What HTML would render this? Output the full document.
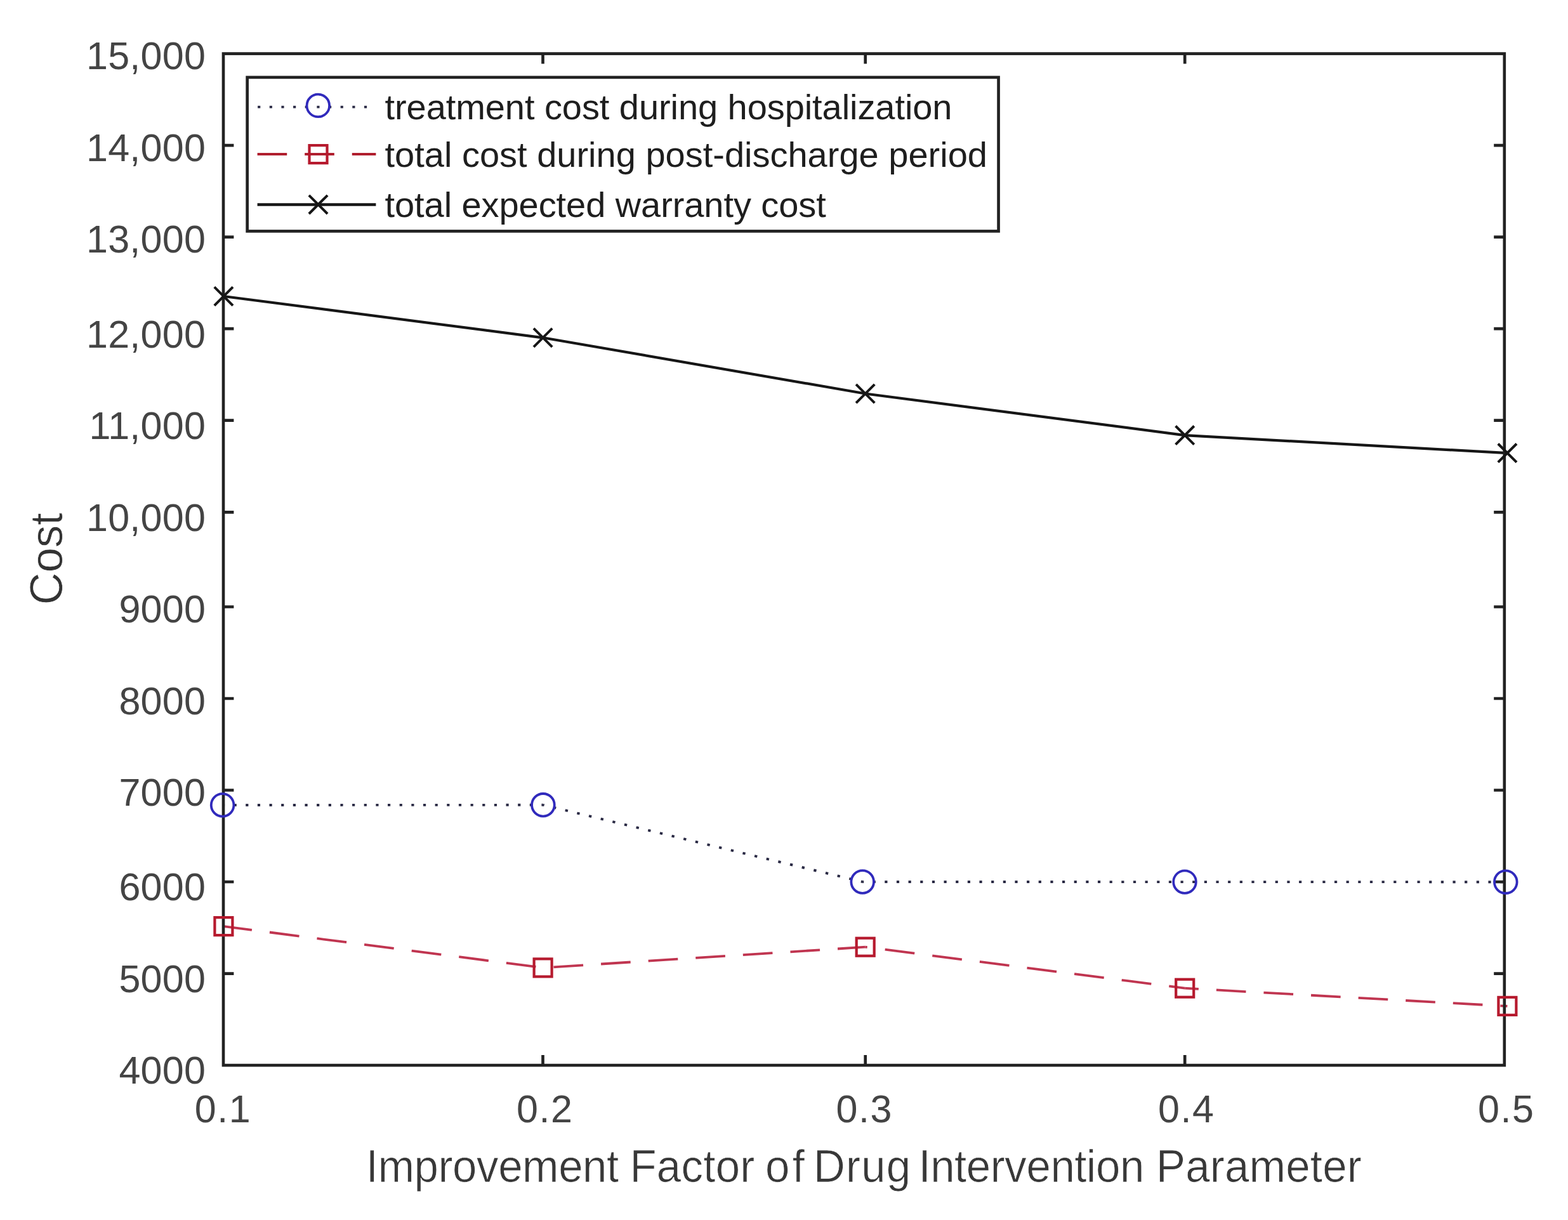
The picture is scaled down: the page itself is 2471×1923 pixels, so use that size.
<!DOCTYPE html>
<html lang="en">
<head>
<meta charset="utf-8">
<title>Cost vs Improvement Factor of Drug Intervention Parameter</title>
<style>
html,body{margin:0;padding:0;background:#fff;}
body{width:2471px;height:1923px;overflow:hidden;}
svg{display:block;}
text{font-family:"Liberation Sans",Arial,Helvetica,sans-serif;white-space:pre;}
.tick{font-size:61px;fill:#444;}
.lab{font-size:69px;fill:#383838;stroke:#fff;stroke-width:0.7px;}
.cost{font-size:71px;fill:#333;stroke:#fff;stroke-width:0.7px;}
.leg{font-size:56px;fill:#1e1e1e;}
</style>
</head>
<body>
<svg width="2471" height="1923" viewBox="0 0 2471 1923">
<rect x="0" y="0" width="2471" height="1923" fill="#ffffff"/>

<g fill="none">
<path d="M350.6 1269.0L855.9 1268.8" stroke="#2a2a44" stroke-width="3.9" stroke-dasharray="4.20 14.45" stroke-dashoffset="0.70"/>
<path d="M855.9 1268.8L1359.2 1390.0" stroke="#2a2a44" stroke-width="3.9" stroke-dasharray="4.32 14.86" stroke-dashoffset="2.54"/>
<path d="M1359.2 1390.0L1867.0 1390.1" stroke="#2a2a44" stroke-width="3.9" stroke-dasharray="4.20 14.45" stroke-dashoffset="2.24"/>
<path d="M1867.0 1390.1L2372.8 1390.2" stroke="#2a2a44" stroke-width="3.9" stroke-dasharray="4.20 14.45" stroke-dashoffset="6.51"/>
<path d="M352.4 1460.1L855.6 1525.4" stroke="#c03550" stroke-width="3.8" stroke-dasharray="47.01 28.21" stroke-dashoffset="2.12"/>
<path d="M855.6 1525.4L1363.7 1492.7" stroke="#c03550" stroke-width="3.8" stroke-dasharray="46.72 28.03" stroke-dashoffset="57.84"/>
<path d="M1363.7 1492.7L1867.2 1557.7" stroke="#c03550" stroke-width="3.8" stroke-dasharray="47.01 28.21" stroke-dashoffset="44.00"/>
<path d="M1867.2 1557.7L2375.4 1585.9" stroke="#c03550" stroke-width="3.8" stroke-dasharray="46.69 28.02" stroke-dashoffset="25.00"/>
<polyline points="352.4,467.0 855.6,532.3 1363.7,620.5 1867.2,686.1 2375.4,714.1" stroke="#161616" stroke-width="4.2" stroke-linejoin="round"/>
</g>
<g fill="none" stroke="#222222" stroke-width="4.66">
<rect x="352.0" y="84.6" width="2018.8" height="1594.5"/>
<path d="M352.0 229.1H368.4M2370.8 229.1H2354.2"/>
<path d="M352.0 373.7H368.4M2370.8 373.7H2354.2"/>
<path d="M352.0 518.2H368.4M2370.8 518.2H2354.2"/>
<path d="M352.0 662.7H368.4M2370.8 662.7H2354.2"/>
<path d="M352.0 807.3H368.4M2370.8 807.3H2354.2"/>
<path d="M352.0 956.5H368.4M2370.8 956.5H2354.2"/>
<path d="M352.0 1101.0H368.4M2370.8 1101.0H2354.2"/>
<path d="M352.0 1245.5H368.4M2370.8 1245.5H2354.2"/>
<path d="M352.0 1390.0H368.4M2370.8 1390.0H2354.2"/>
<path d="M352.0 1534.6H368.4M2370.8 1534.6H2354.2"/>
<path d="M855.5 84.6V100.6M855.5 1679.1V1663.1"/>
<path d="M1363.7 84.6V100.6M1363.7 1679.1V1663.1"/>
<path d="M1867.2 84.6V100.6M1867.2 1679.1V1663.1"/>
</g>
<g fill="none">
<circle cx="350.6" cy="1269.0" r="17.8" stroke="#302abc" stroke-width="3.8"/>
<circle cx="855.9" cy="1268.8" r="17.8" stroke="#302abc" stroke-width="3.8"/>
<circle cx="1359.2" cy="1390.0" r="17.8" stroke="#302abc" stroke-width="3.8"/>
<circle cx="1867.0" cy="1390.1" r="17.8" stroke="#302abc" stroke-width="3.8"/>
<circle cx="2372.8" cy="1390.2" r="17.8" stroke="#302abc" stroke-width="3.8"/>
<rect x="338.4" y="1446.1" width="28" height="28" stroke="#b61a2e" stroke-width="4.2"/>
<rect x="841.6" y="1511.4" width="28" height="28" stroke="#b61a2e" stroke-width="4.2"/>
<rect x="1349.7" y="1478.7" width="28" height="28" stroke="#b61a2e" stroke-width="4.2"/>
<rect x="1853.2" y="1543.7" width="28" height="28" stroke="#b61a2e" stroke-width="4.2"/>
<rect x="2361.4" y="1571.9" width="28" height="28" stroke="#b61a2e" stroke-width="4.2"/>
<path d="M337.8 452.4L367.0 481.6M337.8 481.6L367.0 452.4" stroke="#161616" stroke-width="4.0"/>
<path d="M841.0 517.7L870.2 546.9M841.0 546.9L870.2 517.7" stroke="#161616" stroke-width="4.0"/>
<path d="M1349.1 605.9L1378.3 635.1M1349.1 635.1L1378.3 605.9" stroke="#161616" stroke-width="4.0"/>
<path d="M1852.6 671.5L1881.8 700.7M1852.6 700.7L1881.8 671.5" stroke="#161616" stroke-width="4.0"/>
<path d="M2360.8 699.5L2390.0 728.7M2360.8 728.7L2390.0 699.5" stroke="#161616" stroke-width="4.0"/>
</g>
<g class="tick" text-anchor="end" letter-spacing="0.3">
<text x="324.3" y="109.2">15,000</text>
<text x="324.3" y="253.7">14,000</text>
<text x="324.3" y="398.3">13,000</text>
<text x="324.3" y="547.5">12,000</text>
<text x="324.3" y="692.0">11,000</text>
<text x="324.3" y="836.5">10,000</text>
<text x="324.3" y="981.1">9000</text>
<text x="324.3" y="1125.6">8000</text>
<text x="324.3" y="1270.1">7000</text>
<text x="324.3" y="1419.3">6000</text>
<text x="324.3" y="1563.8">5000</text>
<text x="324.3" y="1708.4">4000</text>
</g>
<g class="tick" letter-spacing="1.6">
<text x="306.7" y="1769.0">0.1</text>
<text x="813.9" y="1769.0">0.2</text>
<text x="1317.4" y="1769.0">0.3</text>
<text x="1825.0" y="1769.0">0.4</text>
<text x="2328.9" y="1769.0">0.5</text>
</g>
<text class="lab" transform="translate(0 1862.6) scale(1 1.04)" y="0"><tspan x="576.8" letter-spacing="-0.41">Improvement</tspan> <tspan x="992.4" letter-spacing="0.28">Factor</tspan> <tspan x="1206.0" letter-spacing="4.3">of</tspan> <tspan x="1282.0" letter-spacing="1.2">Drug</tspan> <tspan x="1447.4" letter-spacing="-0.41">Intervention</tspan> <tspan x="1822.0" letter-spacing="0.22">Parameter</tspan></text>
<text class="cost" letter-spacing="-0.3" transform="translate(98.0 953.4) rotate(-90) scale(1 1.03)">Cost</text>
<rect x="389.65" y="121.9" width="1183.9" height="242.5" fill="#fff" stroke="#222222" stroke-width="4.66"/>
<g fill="none">
<path d="M406.1 168.6H578.5" stroke="#2a2a44" stroke-width="3.9" stroke-dasharray="4.2 14.45"/>
<circle cx="501.3" cy="166.4" r="17.8" stroke="#302abc" stroke-width="3.8"/>
<path d="M405.6 243H592.4" stroke="#b01e2e" stroke-width="4.0" stroke-dasharray="46.62 27.97"/>
<rect x="487.5" y="229.1" width="28" height="28" stroke="#b61a2e" stroke-width="4.2"/>
<path d="M405.6 322.4H592.4" stroke="#161616" stroke-width="4.5"/>
<path d="M486.9 307.8L516.1 337M486.9 337L516.1 307.8" stroke="#161616" stroke-width="4.0"/>
</g>
<g class="leg">
<text x="606.5" y="188.3" letter-spacing="-0.07">treatment cost during hospitalization</text>
<text x="606.5" y="263.1" letter-spacing="0">total cost during post-discharge period</text>
<text x="606.5" y="342.4" letter-spacing="-0.07">total expected warranty cost</text>
</g>
</svg>
</body>
</html>
